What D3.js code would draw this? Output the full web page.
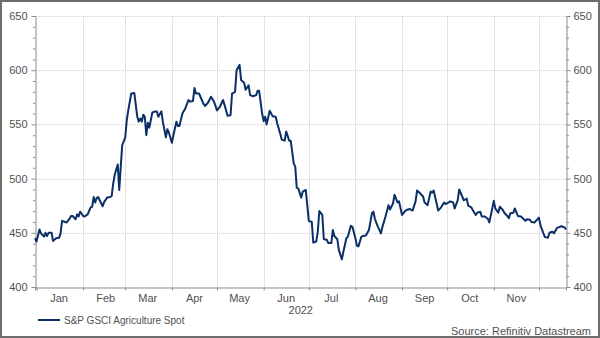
<!DOCTYPE html>
<html lang="en">
<head>
  <meta charset="UTF-8" />
  <title>S&amp;P GSCI Agriculture Spot</title>
  <script src="https://d3js.org/d3.v7.min.js"></script>
  <style>
    body {
      margin: 0;
      background: #fff;
      font-family: "Liberation Sans", Arial, sans-serif;
    }
    #chart svg {
      display: block;
    }
  </style>
</head>
<body>
  <div id="chart"></div>

  <script>
    // ---------- DATA ----------
    const dates = [
      "2021-12-31","2022-01-01","2022-01-03","2022-01-04","2022-01-06","2022-01-07","2022-01-08","2022-01-09",
      "2022-01-11","2022-01-12","2022-01-14","2022-01-16","2022-01-17","2022-01-18","2022-01-20","2022-01-21",
      "2022-01-23","2022-01-24","2022-01-25","2022-01-27","2022-01-28","2022-01-29","2022-01-30","2022-02-01",
      "2022-02-02","2022-02-04","2022-02-06","2022-02-07","2022-02-08","2022-02-09","2022-02-10","2022-02-11",
      "2022-02-12","2022-02-14","2022-02-15","2022-02-17","2022-02-19","2022-02-20","2022-02-21","2022-02-22",
      "2022-02-24","2022-02-25","2022-02-26","2022-02-27","2022-03-01","2022-03-02","2022-03-03","2022-03-05",
      "2022-03-07","2022-03-09","2022-03-10","2022-03-11","2022-03-12","2022-03-13","2022-03-14","2022-03-15",
      "2022-03-16","2022-03-17","2022-03-19","2022-03-21","2022-03-22","2022-03-23","2022-03-25","2022-03-26",
      "2022-03-28","2022-03-29","2022-03-30","2022-04-01","2022-04-02","2022-04-04","2022-04-05","2022-04-06",
      "2022-04-08","2022-04-10","2022-04-12","2022-04-13","2022-04-15","2022-04-16","2022-04-17","2022-04-19",
      "2022-04-20","2022-04-22","2022-04-23","2022-04-25","2022-04-27","2022-04-29","2022-05-01","2022-05-03",
      "2022-05-05","2022-05-06","2022-05-08","2022-05-10","2022-05-11","2022-05-13","2022-05-14","2022-05-16",
      "2022-05-17","2022-05-19","2022-05-20","2022-05-22","2022-05-23","2022-05-25","2022-05-27","2022-05-28",
      "2022-05-29","2022-05-31","2022-06-01","2022-06-02","2022-06-03","2022-06-05","2022-06-07","2022-06-09",
      "2022-06-10","2022-06-12","2022-06-13","2022-06-15","2022-06-16","2022-06-18","2022-06-19","2022-06-21",
      "2022-06-22","2022-06-23","2022-06-24","2022-06-26","2022-06-27","2022-06-29","2022-06-30","2022-07-01",
      "2022-07-03","2022-07-04","2022-07-06","2022-07-07","2022-07-08","2022-07-10","2022-07-11","2022-07-13",
      "2022-07-14","2022-07-16","2022-07-17","2022-07-18","2022-07-20","2022-07-21","2022-07-23","2022-07-24",
      "2022-07-26","2022-07-27","2022-07-29","2022-07-30","2022-08-01","2022-08-02","2022-08-03","2022-08-05",
      "2022-08-06","2022-08-08","2022-08-10","2022-08-12","2022-08-13","2022-08-14","2022-08-16","2022-08-18",
      "2022-08-19","2022-08-21","2022-08-23","2022-08-24","2022-08-26","2022-08-27","2022-08-29","2022-08-30",
      "2022-09-01","2022-09-03","2022-09-04","2022-09-06","2022-09-08","2022-09-10","2022-09-11","2022-09-13",
      "2022-09-15","2022-09-16","2022-09-18","2022-09-20","2022-09-21","2022-09-22","2022-09-24","2022-09-25",
      "2022-09-27","2022-09-29","2022-09-30","2022-10-02","2022-10-03","2022-10-05","2022-10-06","2022-10-08",
      "2022-10-09","2022-10-11","2022-10-12","2022-10-14","2022-10-15","2022-10-17","2022-10-18","2022-10-20",
      "2022-10-21","2022-10-23","2022-10-24","2022-10-26","2022-10-28","2022-10-29","2022-10-31","2022-11-01",
      "2022-11-02","2022-11-04","2022-11-05","2022-11-07","2022-11-08","2022-11-10","2022-11-11","2022-11-12",
      "2022-11-14","2022-11-15","2022-11-17","2022-11-19","2022-11-21","2022-11-22","2022-11-23","2022-11-25",
      "2022-11-26","2022-11-28","2022-11-29","2022-12-01","2022-12-02","2022-12-04","2022-12-05","2022-12-07",
      "2022-12-08","2022-12-10","2022-12-11","2022-12-13","2022-12-14","2022-12-16","2022-12-18","2022-12-19"
    ];

    const values = [
      445, 442, 453, 449.5, 446.5, 450, 447, 450,
      450, 442.5, 445, 445.5, 449.5, 461, 460, 459.5,
      463, 465.5, 465.5, 462.5, 467, 465, 469.5, 465.5,
      465, 467, 473.5, 474, 483, 478, 482, 483,
      480, 474.5, 478.5, 482.5, 483, 484, 495.5, 503.5,
      513, 489.5, 511, 531, 538, 554, 563, 578.5,
      579, 557, 552.5, 555.5, 552.5, 559, 557, 540,
      551.5, 547, 561, 562, 562, 557, 562, 552.5,
      538, 545.5, 542.5, 533, 540, 552.5, 548.5, 548.5,
      560, 565, 572.5, 571, 571.5, 583.5, 578.5, 578.5,
      575.5, 569, 567, 570, 575.5, 571, 563, 566.5,
      572.5, 568, 558, 558.5, 578.5, 580, 600, 605,
      591, 588.5, 582, 586, 577, 576, 577, 581,
      581, 560, 553, 557, 550, 562.5, 557.5, 557,
      551, 541.5, 536, 535, 543.5, 535, 535, 514,
      511, 491.5, 491, 482.5, 488, 489.5, 475.5, 461,
      460, 441, 442, 451, 470, 466.5, 444, 443.5,
      440.5, 440.5, 452.5, 447, 444, 434, 425.5, 432.5,
      445, 446.5, 456.5, 455.5, 445, 438, 437.5, 446.5,
      447, 447.5, 452.5, 468, 469.5, 462.5, 455.5, 449.5,
      455.5, 465, 475.5, 471.5, 477, 485, 478, 479,
      466.5, 470, 471, 472, 470.5, 479, 489, 486.5,
      483.5, 478, 475.5, 488, 487, 489, 477, 470.5,
      473.5, 478, 476.5, 478, 479, 478, 472.5, 480,
      490, 483.5, 480, 481.5, 475, 473.5, 471, 466.5,
      468.5, 469.5, 465, 465, 463, 459.5, 472.5, 479.5,
      472.5, 468.5, 474, 471, 468.5, 465.5, 463.5, 468,
      468.5, 472.5, 465.5, 465, 462.5, 461, 462.5, 462,
      460, 459.5, 461, 464, 457, 449.5, 446, 445.5,
      450, 451, 449.5, 454.5, 455, 456, 455, 453
    ];

    const yTicks = [400, 450, 500, 550, 600, 650];
    const monthLabels = ["Jan", "Feb", "Mar", "Apr", "May", "Jun", "Jul", "Aug", "Sep", "Oct", "Nov"];
    const yearLabel = "2022";
    const seriesName = "S&P GSCI Agriculture Spot";
    const sourceText = "Source: Refinitiv Datastream";

    // ---------- CHART ----------
    const width = 600, height = 338;
    const plot = { left: 35, right: 566, top: 16, bottom: 287 };
    const axisColor = "#8a8a8a";
    const textColor = "#505050";
    const lineColor = "#0b2f67";

    const parse = d3.timeParse("%Y-%m-%d");
    const data = dates.map((d, i) => ({ date: parse(d), value: values[i] }));

    const x = d3.scaleTime()
      .domain([parse("2021-12-31"), parse("2022-12-19")])
      .range([plot.left, plot.right]);

    const y = d3.scaleLinear()
      .domain([400, 650])
      .range([plot.bottom, plot.top]);

    const svg = d3.select("#chart").append("svg")
      .attr("width", width)
      .attr("height", height);

    svg.append("rect")
      .attr("width", width).attr("height", height)
      .attr("fill", "#fff");

    const monthStarts = d3.timeMonth.range(parse("2022-01-01"), parse("2022-12-02"));

    // vertical gridlines at month starts
    svg.append("g")
      .selectAll("line")
      .data(monthStarts.slice(1))
      .join("line")
      .attr("x1", d => Math.round(x(d)) + 0.5)
      .attr("x2", d => Math.round(x(d)) + 0.5)
      .attr("y1", plot.top)
      .attr("y2", plot.bottom)
      .attr("stroke", "#e2e2e2")
      .attr("stroke-width", 1);

    // horizontal dotted gridlines
    svg.append("g")
      .selectAll("line")
      .data(yTicks.slice(1))
      .join("line")
      .attr("x1", plot.left)
      .attr("x2", plot.right)
      .attr("y1", d => Math.round(y(d)) + 0.5)
      .attr("y2", d => Math.round(y(d)) + 0.5)
      .attr("stroke", "#cfcfcf")
      .attr("stroke-dasharray", "1,1")
      .attr("stroke-width", 1);

    // left axis
    const leftAxis = d3.axisLeft(y)
      .tickValues(d3.range(400, 651, 10))
      .tickSize(3)
      .tickPadding(5)
      .tickFormat(d => yTicks.includes(d) ? d : "");

    const gl = svg.append("g")
      .attr("transform", `translate(${plot.left + 0.5},0)`)
      .call(leftAxis);

    // right axis
    const rightAxis = d3.axisRight(y)
      .tickValues(d3.range(400, 651, 10))
      .tickSize(3)
      .tickPadding(4)
      .tickFormat(d => yTicks.includes(d) ? d : "");

    const gr = svg.append("g")
      .attr("transform", `translate(${plot.right + 0.5},0)`)
      .call(rightAxis);

    [gl, gr].forEach(g => {
      g.select(".domain").attr("stroke", axisColor);
      g.selectAll(".tick line")
        .attr("stroke", axisColor)
        .attr("x2", function (d) {
          const dir = +d3.select(this).attr("x2") < 0 ? -1 : 1;
          return dir * (yTicks.includes(d) ? 4 : 2.5);
        });
      g.selectAll(".tick text")
        .attr("fill", textColor)
        .style("font-family", "'Liberation Sans', Arial, sans-serif")
        .style("font-size", "11px");
    });

    // bottom axis (month ticks, labels centred in the month)
    const bottomAxis = d3.axisBottom(x)
      .tickValues(monthStarts)
      .tickSize(3)
      .tickFormat("");

    const gb = svg.append("g")
      .attr("transform", `translate(0,${plot.bottom + 0.5})`)
      .call(bottomAxis);
    gb.select(".domain").attr("stroke", axisColor);
    gb.selectAll(".tick line").attr("stroke", axisColor);

    svg.append("g")
      .selectAll("text")
      .data(monthLabels)
      .join("text")
      .attr("x", (d, i) => x(d3.timeDay.offset(monthStarts[i], 15)))
      .attr("y", plot.bottom + 15)
      .attr("text-anchor", "middle")
      .attr("fill", textColor)
      .style("font-size", "11px")
      .text(d => d);

    svg.append("text")
      .attr("x", x(parse("2022-07-01")) - 8)
      .attr("y", plot.bottom + 27)
      .attr("text-anchor", "middle")
      .attr("fill", textColor)
      .style("font-size", "11px")
      .text(yearLabel);

    // series line
    const line = d3.line()
      .x(d => x(d.date))
      .y(d => y(d.value));

    svg.append("path")
      .datum(data)
      .attr("fill", "none")
      .attr("stroke", lineColor)
      .attr("stroke-width", 2)
      .attr("stroke-linejoin", "round")
      .attr("d", line);

    // legend
    svg.append("line")
      .attr("x1", 38).attr("x2", 60)
      .attr("y1", 320).attr("y2", 320)
      .attr("stroke", lineColor)
      .attr("stroke-width", 2);

    svg.append("text")
      .attr("x", 64)
      .attr("y", 323.5)
      .attr("fill", textColor)
      .style("font-size", "10px")
      .text(seriesName);

    // source
    svg.append("text")
      .attr("x", 591)
      .attr("y", 335)
      .attr("text-anchor", "end")
      .attr("fill", textColor)
      .style("font-size", "11px")
      .text(sourceText);

    // outer frame
    svg.append("rect")
      .attr("x", 1).attr("y", 1)
      .attr("width", width - 2).attr("height", height - 2)
      .attr("fill", "none")
      .attr("stroke", "#6e6e6e")
      .attr("stroke-width", 2);
  </script>
</body>
</html>
